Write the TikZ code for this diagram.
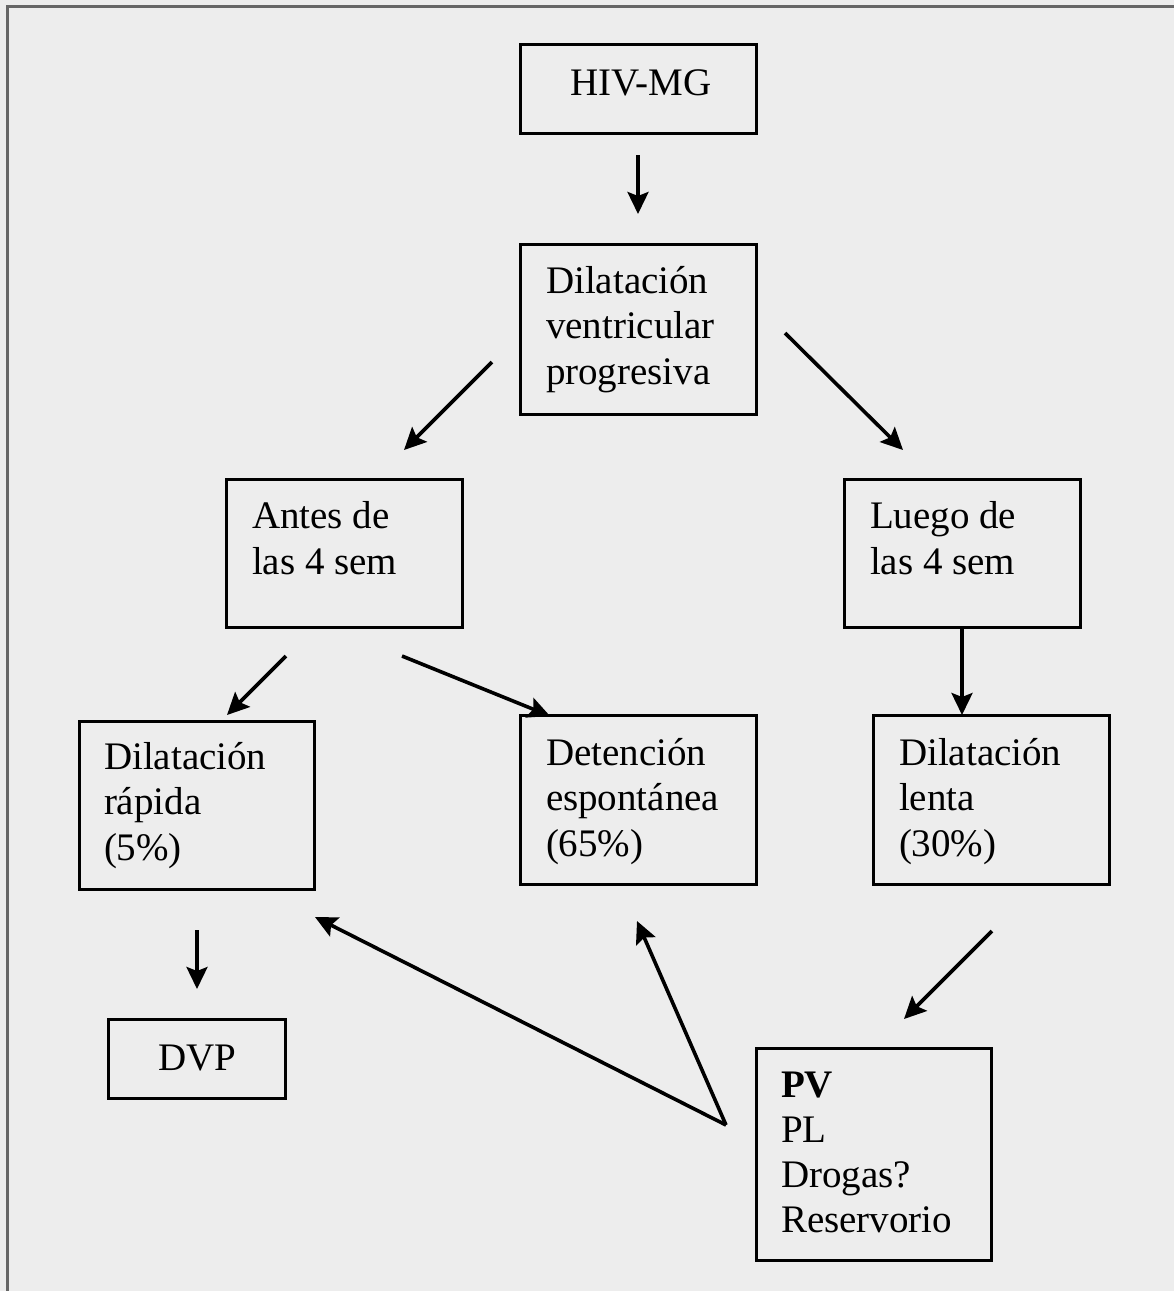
\documentclass[tikz,border=0pt]{standalone}
\usepackage{fontspec}
\setmainfont{Liberation Serif}
\usetikzlibrary{arrows.meta}
\definecolor{bg}{HTML}{EDEDED}
\definecolor{frame}{HTML}{666666}
\tikzset{
  boxnode/.style={draw=black, line width=3pt, rectangle, inner sep=0pt, outer sep=0pt},
  txt/.style={anchor=north west, inner sep=0pt, outer sep=0pt, align=left,
    font=\fontsize{39}{45.5}\selectfont},
  arr/.style={line width=3.6pt, -{Stealth[length=22pt, width=21pt, inset=4pt]}},
}
\newcommand{\mkbox}[5]{\node[boxnode, minimum width={#4-#2}, minimum height={#5-#3}] (#1) at ({(#2+#4)/2},{(#3+#5)/2}) {};}
\begin{document}
\begin{tikzpicture}[x=1pt, y=-1pt]
\fill[bg] (0,0) rectangle (1174,1291);
\useasboundingbox (0,0) rectangle (1174,1291);
\draw[frame, line width=3pt] (7.2,1291) -- (7.2,6.2) -- (1174,6.2);

% boxes
\mkbox{hiv}{520}{44}{756}{133}
\mkbox{dvpro}{520}{244}{756}{414}
\mkbox{antes}{226}{479}{462}{627}
\mkbox{luego}{844}{479}{1080}{627}
\mkbox{rapida}{79}{721}{314}{889}
\mkbox{deten}{520}{715}{756}{884}
\mkbox{lenta}{873}{715}{1109}{884}
\mkbox{dvp}{108}{1019}{285}{1098}
\mkbox{pv}{756}{1048}{991}{1260}

% texts
\node[txt] (thiv) at (570,63.2) {\strut HIV-MG};
\node[txt] (tdvpro) at (546,261.2) {\strut Dilatación\\\strut ventricular\\\strut progresiva};
\node[txt] (tantes) at (252,497) {\strut Antes de\\\strut las 4 sem};
\node[txt] (tluego) at (870,497) {\strut Luego de\\\strut las 4 sem};
\node[txt] (trapida) at (104,737.2) {\strut Dilatación\\\strut rápida\\\strut (5\%)};
\node[txt] (tdeten) at (546,733.2) {\strut Detención\\\strut espontánea\\\strut (65\%)};
\node[txt] (tlenta) at (899,733.2) {\strut Dilatación\\\strut lenta\\\strut (30\%)};
\node[txt] (tdvp) at (158,1038.2) {\strut DVP};
\node[txt, font=\fontsize{39}{45}\selectfont] (tpv) at (781,1066.2) {\strut\textbf{PV}\\\strut PL\\\strut Drogas?\\\strut Reservorio};

% arrow end points
\coordinate (a1s) at (638,155); \coordinate (a1e) at (638,214);
\coordinate (a2s) at (492,362); \coordinate (a2e) at (404,450);
\coordinate (a3s) at (785,333); \coordinate (a3e) at (903,450);
\coordinate (a4s) at (286,656); \coordinate (a4e) at (227,715);
\coordinate (a5s) at (402,656); \coordinate (a5e) at (550,716);
\coordinate (a6s) at (962,627); \coordinate (a6e) at (962,715);
\coordinate (a7s) at (197,930); \coordinate (a7e) at (197,989);
\coordinate (a8s) at (992,931); \coordinate (a8e) at (904,1019);
\coordinate (vj) at (726,1125);
\coordinate (a9e) at (315,917);
\coordinate (a10e) at (637,921);

\draw[arr] (a1s) -- (a1e);
\draw[arr] (a2s) -- (a2e);
\draw[arr] (a3s) -- (a3e);
\draw[arr] (a4s) -- (a4e);
\draw[arr] (a5s) -- (a5e);
\draw[arr] (luego.south -| a6s) -- (a6e);
\draw[arr] (a7s) -- (a7e);
\draw[arr] (a8s) -- (a8e);
\draw[arr] (vj) -- (a9e);
\draw[arr] (vj) -- (a10e);
\end{tikzpicture}
\end{document}
